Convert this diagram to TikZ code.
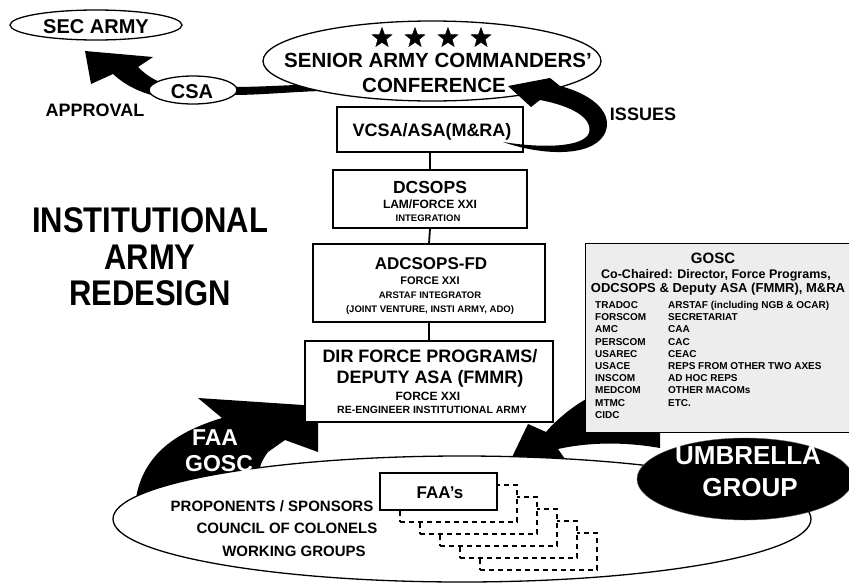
\documentclass[tikz,border=0pt]{standalone}
\usepackage{fontspec}
\setmainfont{Liberation Sans}
\usepackage{graphicx}
\usetikzlibrary{shapes.geometric}
\newcommand\fsz[1]{\fontsize{#1}{#1}\selectfont}
\begin{document}
\begin{tikzpicture}[x=1pt,y=-1pt,
  txt/.style={font=\fsz{#1}\bfseries, text height={0.716*#1}, text depth=0pt, inner sep=0pt},
  wtxt/.style={txt=#1, text=white},
  oval/.style={ellipse, draw, line width=1.3pt, fill=white, inner sep=0pt},
  orgbox/.style={rectangle, draw, line width=1.8pt, fill=white, inner sep=0pt},
  conn/.style={line width=1.8pt},
  starnode/.style={star, star points=5, star point ratio=2.4, fill=black, draw=black, minimum size=21pt, inner sep=0pt},
  dbox/.style={rectangle, draw, dash pattern=on 5pt off 4pt, line width=1.3pt, fill=white, minimum width=117pt, minimum height=37pt, inner sep=0pt},
  band/.style={fill=black},
]
\useasboundingbox (0,0) rectangle (849,584);

% CSA approval arrow (behind ellipses)
\fill[band] (320,84) .. controls (290,85) and (260,87) .. (232,87) -- (160,82) .. controls (150,78) and (143,72) .. (138,67) -- (153,57) -- (85,51) -- (91,84) -- (113,74) .. controls (125,85) and (140,93) .. (160,97) -- (232,95) .. controls (260,95) and (290,92) .. (320,91) -- cycle;

% FAA GOSC arrow
\fill[band] (135,505) .. controls (140,458) and (172,433) .. (222,418) -- (198,398) -- (318,406) -- (318,452) -- (285,440) -- (268,452) .. controls (262,460) and (258,468) .. (258,482) -- cycle;

% UMBRELLA arrow
\fill[band] (592,396) .. controls (575,404) and (556,420) .. (546,432) -- (528,424) -- (500,482) -- (570,466) -- (558,449) .. controls (585,443) and (620,441) .. (660,448) -- (660,410) -- cycle;

% big base ellipse
\node[oval, minimum width=698, minimum height=126] (base) at (462,519) {};

% FAA's stacked boxes
\foreach \k in {5,4,3,2,1}
  \node[dbox] (d\k) at ({438.5+20*\k},{491.5+12*\k}) {};
\node[orgbox, line width=1.5pt, minimum width=117, minimum height=37] (faas) at (438.5,491.5) {};
\node[txt=17] (faast) at (440,492) {FAA's};

\node[txt=15] (prop) at (272,506) {PROPONENTS / SPONSORS};
\node[txt=15] (coc) at (287,528) {COUNCIL OF COLONELS};
\node[txt=15] (wg) at (294,551) {WORKING GROUPS};

\node[wtxt=23] (faal) at (215,437) {FAA};
\node[wtxt=23] (goscl) at (219,463) {GOSC};

% top ellipses
\node[oval, minimum width=172, minimum height=30] (sec) at (96,25) {};
\node[txt=20] (sect) at (96,26) {SEC ARMY};
\node[oval, minimum width=338, minimum height=80] (conf) at (432,61) {};
\node[txt=20.5] (conf1) at (438,60) {SENIOR ARMY COMMANDERS'};
\node[txt=20.5] (conf2) at (434,85) {CONFERENCE};
\foreach \x [count=\i] in {382,415,448,481}
  \node[starnode] (st\i) at (\x,38) {};
\node[oval, minimum width=88, minimum height=28] (csa) at (193,90) {};
\node[txt=20] (csat) at (192,91) {CSA};
\node[txt=18] (appr) at (95,110) {APPROVAL};
\node[txt=18] (iss) at (643,114) {ISSUES};

% title
\node[txt=31] (t1) at (150,221) {\scalebox{1}[1.15]{INSTITUTIONAL}};
\node[txt=31] (t2) at (150,258) {\scalebox{1}[1.15]{ARMY}};
\node[txt=31] (t3) at (150,294) {\scalebox{1}[1.15]{REDESIGN}};

% hierarchy boxes
\node[orgbox, minimum width=186, minimum height=45] (vcsa) at (430,129.5) {};
\node[orgbox, minimum width=194, minimum height=58] (dcsops) at (430,199) {};
\node[orgbox, minimum width=232, minimum height=78] (adcsops) at (429,283) {};
\node[orgbox, minimum width=248, minimum height=81] (dir) at (429,381.5) {};
\draw[conn] (vcsa.south) -- (dcsops.north);
\draw[conn] (dcsops.south) -- (adcsops.north);
\draw[conn] (adcsops.south) -- (dir.north);

\node[txt=18] (vcsat) at (432,130) {VCSA/ASA(M\&RA)};
\node[txt=17.5] (dc1) at (430,187) {DCSOPS};
\node[txt=12] (dc2) at (430,204) {LAM/FORCE XXI};
\node[txt=9.5] (dc3) at (428,218) {INTEGRATION};
\node[txt=17] (ad1) at (431,263) {ADCSOPS-FD};
\node[txt=11] (ad2) at (430,281) {FORCE XXI};
\node[txt=9.5] (ad3) at (430,295) {ARSTAF INTEGRATOR};
\node[txt=9.5] (ad4) at (430,309) {(JOINT VENTURE, INSTI ARMY, ADO)};
\node[txt=18] (dr1) at (430,356) {DIR FORCE PROGRAMS/};
\node[txt=18] (dr2) at (430,377) {DEPUTY ASA (FMMR)};
\node[txt=12] (dr3) at (428,396) {FORCE XXI};
\node[txt=10.5] (dr4) at (432,410) {RE-ENGINEER INSTITUTIONAL ARMY};

% ISSUES arrow (over box and ellipse)
\fill[band] (503,142) .. controls (540,155) and (590,158) .. (604,135) .. controls (615,115) and (595,95) .. (560,86) -- (550,78) -- (508,86) -- (531,107) -- (540,100) .. controls (572,106) and (593,118) .. (589,133) .. controls (583,148) and (540,148) .. (503,142) -- cycle;

% GOSC box
\node[rectangle, draw, line width=1.2pt, fill=black!7, anchor=north west, minimum width=275, minimum height=189, inner sep=0pt] (gosc) at (585,243) {};
\node[txt=15] (g0) at (713,258) {GOSC};
\node[txt=12.5] (g1) at (716,274) {Co-Chaired: Director, Force Programs,};
\node[txt=13] (g2) at (718,288) {ODCSOPS \& Deputy ASA (FMMR), M\&RA};
\foreach \a [count=\i] in {TRADOC,FORSCOM,AMC,PERSCOM,USAREC,USACE,INSCOM,MEDCOM,MTMC,CIDC}
  \node[txt=10, anchor=west] (gl\i) at (595,{305+12.2*(\i-1)}) {\a};
\foreach \b [count=\i] in {{ARSTAF (including NGB \& OCAR)},SECRETARIAT,CAA,CAC,CEAC,{REPS FROM OTHER TWO AXES},{AD HOC REPS},{OTHER MACOMs},{ETC.}}
  \node[txt=10, anchor=west] (gr\i) at (668,{305+12.2*(\i-1)}) {\b};

% UMBRELLA GROUP
\node[ellipse, fill=black, draw=black!60, minimum width=216, minimum height=82, inner sep=0pt] (umb) at (745,479) {};
\node[wtxt=26] (u1) at (748,455) {UMBRELLA};
\node[wtxt=26] (u2) at (750,487) {GROUP};
\end{tikzpicture}
\end{document}
